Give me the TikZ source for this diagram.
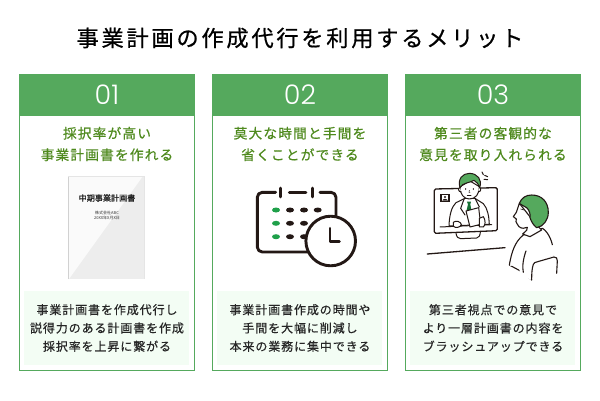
\documentclass[tikz,border=0pt]{standalone}
\usepackage{fontspec}
\newfontfamily\jpT[LetterSpace=12.5,FakeBold=0.6]{Noto Sans CJK JP}
\newfontfamily\jpH[LetterSpace=8.5,FakeBold=0.5]{Noto Sans CJK JP}
\newfontfamily\jpB[LetterSpace=7.5,FakeBold=0.4]{Noto Sans CJK JP}
\newfontfamily\jpD[FakeBold=0.25]{Noto Sans CJK JP}
\newfontfamily\jpS{Noto Sans CJK JP}
\newfontfamily\numf{Poppins Light}
\definecolor{gr}{HTML}{55A95D}
\definecolor{hd}{HTML}{4F8A1E}
\definecolor{bg}{HTML}{F3FDF4}
\definecolor{ic}{HTML}{231815}
\definecolor{cg}{HTML}{1FA04A}
\tikzset{
 card/.style={draw=gr,line width=1pt,fill=white},
 head/.style={fill=gr},
 numtxt/.style={text=white,font=\fontsize{27}{27}\numf},
 headtxt/.style={text=hd,align=center,font=\fontsize{13.7}{21.5}\selectfont\jpH},
 bodytxt/.style={text=black!85,align=center,font=\fontsize{12}{18.3}\selectfont\jpB},
 bodybox/.style={fill=bg},
 ink/.style={draw=ic,line width=1pt,line cap=round,line join=round},
 tink/.style={draw=ic,line width=2.9pt,line cap=round,line join=round},
 hair/.style={ink,fill=gr},
 skin/.style={ink,fill=white},
}
\begin{document}
\begin{tikzpicture}[x=1pt,y=-1pt]
\useasboundingbox (0,0) rectangle (600,400);
\fill[white] (0,0) rectangle (600,400);
\node[text=black,font=\fontsize{22.2}{22}\selectfont\jpT] (title) at (300,38) {事業計画の作成代行を利用するメリット};
% cards
\foreach \x/\n in {19/01,212/02,405/03}{
 \draw[card] (\x+.5,74.5) rectangle (\x+175.5,370.5);
 \fill[head] (\x,74) rectangle (\x+176,116);
 \node[numtxt] at (\x+88,94.5) {\n};
 \fill[bodybox] (\x+5,291) rectangle (\x+170,365);
}
\node[headtxt] (h1) at (107,144) {採択率が高い\\事業計画書を作れる};
\node[headtxt] (h2) at (300,144) {莫大な時間と手間を\\省くことができる};
\node[headtxt] (h3) at (493,144) {第三者の客観的な\\意見を取り入れられる};
\node[bodytxt] (b1) at (107,328) {事業計画書を作成代行し\\説得力のある計画書を作成\\採択率を上昇に繋がる};
\node[bodytxt] (b2) at (300,328) {事業計画書作成の時間や\\手間を大幅に削減し\\本来の業務に集中できる};
\node[bodytxt] (b3) at (493,328) {第三者視点での意見で\\より一層計画書の内容を\\ブラッシュアップできる};
% document
\fill[black!7] (68,176) rectangle (145,279);
\fill[black!2] (68,176) -- (143,176) -- (69,279) -- (68,279) -- cycle;
\draw[black!18,line width=.7pt] (68.5,176) -- (68.5,279);
\draw[black!10,line width=.7pt] (68,176.5) -- (145,176.5) (144.6,176) -- (144.6,279);
\node[text=black!90,font=\fontsize{8.1}{8}\selectfont\jpD] (d1) at (107,198) {中期事業計画書};
\node[text=black!80,align=center,font=\fontsize{4}{5.5}\selectfont\jpS] (d2) at (107,215.5) {株式会社ABC\\20XX年X月X日};
% calendar
\draw[tink,rounded corners=5pt] (275.7,192.3) -- (257.3,192.3) -- (257.3,252) -- (310,252);
\draw[tink,rounded corners=5pt] (320,192.3) -- (336,192.3) -- (336,222);
\draw[tink] (289.3,192.3) -- (306,192.3);
\draw[tink] (280.7,188) -- (280.7,197) (312.7,188) -- (312.7,197);
\foreach \y in {210,223.3,236.7}{
  \fill[cg] (276,\y) ellipse[x radius=4,y radius=2.5];
  \fill[ic] (290,\y) ellipse[x radius=4,y radius=2.5];
  \fill[ic] (304,\y) ellipse[x radius=4,y radius=2.5];
}
\fill[ic] (317.7,210) ellipse[x radius=4,y radius=2.5];
\draw[tink,fill=white] (330.7,241) circle[radius=24.8];
\draw[tink] (330,228.3) -- (330,241.7) -- (339.3,241.7);
% consultation illustration (units: one third of a pixel)
\begin{scope}[shift={(420,165)},x=.3333pt,y=-.3333pt]
 % monitor
 \draw[ink,line width=1.3pt,fill=white,rounded corners=1.5pt] (43,72) -- (232,68) -- (232,197) -- (43,205) -- cycle;
 \draw[ink] (108,205) .. controls (110,216) and (114,221) .. (122,221) -- (170,219) .. controls (177,218) and (180,212) .. (181,202);
 \draw[ink,line width=1.3pt] (22,267) -- (255,248);
 % small photo
 \fill[ic] (60,87) rectangle (90,110);
 \fill[white] (66,91) rectangle (85,107);
 \fill[ic] (75,96) circle[radius=1.2pt] (67,107) .. controls (68,100) and (82,100) .. (84,107) -- cycle;
 % doctor
 \draw[ink] (60,186) -- (215,179);
 \draw[skin] (87,183) .. controls (88,150) and (95,125) .. (108,113) -- (135,100) -- (165,100) -- (190,116) .. controls (203,130) and (207,155) .. (208,178) -- (87,183);
 \draw[ink] (133,100) -- (122,130) -- (135,150) (165,100) -- (178,126);
 \fill[cg!70!black] (141,110) -- (153,110) -- (151,118) -- (154,135) -- (140,135) -- (144,118) -- cycle;
 \draw[skin] (138,138) -- (176,128) -- (182,178) -- (150,186) -- cycle;
 \draw[skin] (100,172) .. controls (108,165) and (122,170) .. (124,178) .. controls (122,188) and (106,190) .. (100,184) -- cycle;
 \draw[skin] (178,160) -- (190,155) .. controls (197,165) and (197,180) .. (190,186) -- (178,186) -- cycle;
 \draw[skin] (120,65) .. controls (120,88) and (132,102) .. (148,102) .. controls (166,102) and (178,88) .. (178,65) -- (150,48) -- cycle;
 \draw[skin] (120,68) .. controls (113,68) and (115,82) .. (123,80);
 \draw[skin] (178,68) .. controls (185,68) and (183,82) .. (175,80);
 \draw[hair] (120,68) .. controls (112,42) and (128,25) .. (148,25) .. controls (172,25) and (188,44) .. (179,68) .. controls (176,58) and (170,50) .. (162,46) .. controls (150,54) and (128,52) .. (120,68) -- cycle;
 \fill[ic] (137,72) ellipse[x radius=.6pt,y radius=1pt] (160,72) ellipse[x radius=.6pt,y radius=1pt];
 \draw[ink,line width=.6pt] (148,76) -- (147,82) -- (150,82);
 \draw[ink] (142,90) -- (153,90);
 \draw[ink] (186,21) -- (190,29) (194,31) -- (203,35) (192,43) -- (203,44);
 % patient
 \draw[ink,line width=1.1pt,fill=white] (268,300) .. controls (275,260) and (285,230) .. (310,210) -- (368,190) .. controls (388,205) and (398,230) .. (402,268) -- (345,290) -- (335,345) -- (305,320) -- cycle;
 \fill[white] (300,250) -- (405,240) -- (405,270) -- (350,291) -- (337,347) -- (300,327) -- (296,295) -- cycle;
 \fill[white] (270,303) -- (283,300) -- (296,295) -- (300,250) -- (290,250) -- cycle;
 \draw[ink,line width=1.1pt] (335,345) .. controls (335,325) and (336,310) .. (340,298) .. controls (342,293) and (346,292) .. (350,291) -- (402,276) .. controls (409,275) and (412,280) .. (412,288) -- (410,325);
 \draw[ink,line width=1.1pt] (310,322) .. controls (306,305) and (310,280) .. (318,258);
 \draw[skin,line width=1.1pt] (298,115) .. controls (294,125) and (292,135) .. (289,142) -- (280,155) -- (289,162) -- (288,170) .. controls (288,178) and (296,178) .. (297,185) .. controls (305,192) and (315,190) .. (322,187) -- (320,196) -- (308,207) -- (330,215) -- (365,195) -- (348,178) -- cycle;
 \draw[hair,line width=1.1pt] (298,115) .. controls (305,98) and (318,90) .. (335,90) .. controls (365,90) and (385,110) .. (385,142) .. controls (385,165) and (370,185) .. (350,188) .. controls (340,180) and (335,172) .. (330,158) .. controls (332,148) and (328,135) .. (320,128) .. controls (312,122) and (302,120) .. (298,115) -- cycle;
 \draw[ink,line width=.6pt] (302,132) -- (312,135);
\end{scope}
\end{tikzpicture}
\end{document}
